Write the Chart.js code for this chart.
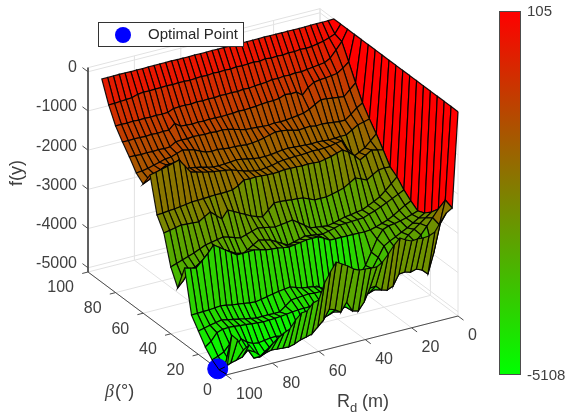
<!DOCTYPE html>
<html lang="en">
<head>
<meta charset="UTF-8">
<title>Surface</title>
<script src="https://cdn.jsdelivr.net/npm/chart.js"></script>
<style>
  html, body { margin: 0; padding: 0; background: #fff; }
  canvas { display: block; }
</style>
</head>
<body>
<canvas id="surface" width="567" height="416"></canvas>
<script>
// axis ticks
const rdTicks = [0, 20, 40, 60, 80, 100];
const betaTicks = [0, 20, 40, 60, 80, 100];
const fTicks = [0, -1000, -2000, -3000, -4000, -5000];
const fMin = -5108;
const fMax = 105;
const optimalPoint = [100, 6, -5108];

// Rd grid goes 0, 2.5, ... 100
const rdStep = 2.5;
// beta grid, one row every 5 degrees
const betaGrid = [0, 5, 10, 15, 20, 25, 30, 35, 40, 45, 50, 55, 60, 65, 70, 75, 80, 85, 90];

// f(y) per row
const beta0 = [105,-2315,-2404,-2598,-2815,-2878,-2891,-2881,-2894,-2830,-2741,-2884,-3075,-3241,-3330,-3320,-3307,-3297,-3233,-3118,-3029,-2940,-3159,-3401,-3797,-3835,-4001,-4016,-4156,-4348,-4412,-4503,-4618,-4733,-4848,-4710,-4493,-4582,-4292,-4126,-5083];
const beta5 = [105,-2243,-2843,-3519,-4016,-3878,-3815,-3858,-3815,-3832,-4098,-4164,-4123,-3986,-3998,-4317,-4508,-4470,-4205,-4422,-4332,-4271,-4514,-4654,-4794,-4835,-4873,-4937,-4975,-4965,-4952,-4940,-4980,-5044,-5031,-4789,-4929,-4970,-5009,-5072,-5108];
const beta10 = [105,-2603,-2790,-2970,-3154,-3300,-3480,-3650,-3800,-3950,-4050,-4150,-4250,-4300,-4350,-4400,-4450,-4500,-4520,-4550,-4600,-4650,-4700,-4720,-4760,-4790,-4820,-4840,-4830,-4800,-4804,-4830,-4850,-4830,-4760,-4640,-4800,-4700,-4860,-4930,-4988];
const beta15 = [105,-2812,-2920,-3030,-3140,-3250,-3400,-3550,-3750,-3950,-4100,-4200,-4300,-4350,-4400,-4400,-4400,-4420,-4420,-4430,-4430,-4430,-4440,-4440,-4445,-4460,-4480,-4500,-4510,-4520,-4526,-4510,-4500,-4480,-4470,-4450,-4440,-4450,-4500,-4680,-4788];
const beta20 = [105,-2968,-3060,-3150,-3238,-3310,-3390,-3460,-3550,-3800,-4050,-4200,-4350,-4400,-4400,-4400,-4400,-4400,-4350,-4300,-4300,-4281,-4295,-4310,-4322,-4440,-4552,-4555,-4550,-4555,-4557,-4530,-4500,-4470,-4440,-4410,-4381,-4410,-4440,-4480,-4511];
const beta25 = [105,-3047,-3100,-3150,-3190,-3220,-3240,-3300,-3500,-3800,-4100,-4300,-4450,-4500,-4500,-4500,-4500,-4450,-4350,-4300,-4280,-4261,-4210,-4159,-4180,-4200,-4225,-4260,-4290,-4317,-4300,-4280,-4260,-4243,-4210,-4192,-4205,-4220,-4225,-4230,-4235];
const beta30 = [105,-2924,-3000,-3090,-3180,-3259,-3310,-3360,-3400,-3414,-3410,-3405,-3404,-3400,-3400,-3399,-3310,-3241,-3240,-3243,-3270,-3290,-3310,-3290,-3260,-3250,-3233,-3190,-3159,-3165,-3170,-3174,-3070,-2970,-2870,-2769,-2950,-3100,-3241,-3210,-3168];
const beta35 = [105,-2774,-2850,-2920,-2990,-3060,-3120,-3170,-3227,-3230,-3240,-3250,-3255,-3300,-3340,-3373,-3350,-3330,-3310,-3350,-3390,-3427,-3350,-3270,-3186,-3150,-3111,-3200,-3290,-3381,-3300,-3220,-3139,-3200,-3270,-3333,-3360,-3390,-3424,-3650,-3807];
const beta40 = [105,-2575,-2710,-2850,-2973,-3050,-3120,-3190,-3210,-3240,-3256,-3300,-3340,-3373,-3350,-3330,-3312,-3200,-3100,-2996,-3020,-3040,-3061,-3030,-3000,-2973,-3020,-3070,-3116,-3070,-3020,-2978,-3010,-3040,-3067,-3130,-3197,-3250,-3300,-3350,-3404];
const beta45 = [105,-2450,-2440,-2455,-2540,-2634,-2570,-2506,-2600,-2687,-2730,-2770,-2803,-2800,-2805,-2740,-2678,-2660,-2650,-2630,-2620,-2618,-2760,-2899,-2850,-2799,-2720,-2647,-2570,-2496,-2688,-2560,-2433,-2520,-2613,-2600,-2590,-2578,-2610,-2640,-2668];
const beta50 = [105,-2149,-2110,-2075,-2170,-2254,-2100,-1980,-1886,-1930,-1980,-2010,-2042,-2030,-2020,-2030,-2019,-2020,-2010,-2030,-2040,-2030,-2022,-2010,-2020,-2011,-2120,-2192,-2200,-2210,-2205,-2215,-2225,-2230,-2234,-2260,-2280,-2300,-2310,-2330,-2340];
const beta55 = [105,-1872,-2010,-2154,-2230,-2310,-2060,-1825,-1850,-1880,-1894,-1900,-1890,-1910,-1919,-1920,-1930,-1935,-1960,-2000,-2020,-2039,-2020,-1990,-1950,-1900,-1850,-1820,-1800,-1780,-1751,-1720,-1680,-1639,-1450,-1256,-1300,-1340,-1380,-1420,-1451];
const beta60 = [105,-1621,-1660,-1700,-1790,-1878,-1880,-1890,-1894,-1880,-1870,-1880,-1871,-1860,-1850,-1840,-1848,-1870,-1890,-1900,-1901,-1880,-1850,-1820,-1802,-1820,-1830,-1840,-1830,-1800,-1760,-1730,-1700,-1718,-1650,-1580,-1478,-1560,-1650,-1740,-1812];
const beta65 = [105,-1344,-1435,-1560,-1667,-1670,-1650,-1630,-1618,-1630,-1600,-1610,-1621,-1590,-1550,-1530,-1521,-1560,-1600,-1630,-1651,-1660,-1640,-1630,-1628,-1610,-1590,-1600,-1580,-1520,-1450,-1410,-1378,-1430,-1480,-1496,-1540,-1580,-1620,-1650,-1664];
const beta70 = [105,-965,-1100,-1241,-1220,-1200,-1180,-1169,-1250,-1340,-1400,-1422,-1440,-1460,-1470,-1460,-1480,-1470,-1460,-1450,-1440,-1400,-1360,-1320,-1300,-1310,-1290,-1300,-1290,-1280,-1300,-1290,-1300,-1390,-1400,-1390,-1400,-1390,-1400,-1390,-1386];
const beta75 = [105,-561,-680,-780,-800,-820,-830,-855,-950,-1110,-990,-1000,-980,-1040,-1060,-1060,-1070,-1090,-1100,-1110,-1100,-1120,-1120,-1130,-1120,-1120,-1130,-1120,-1130,-1120,-1110,-1000,-1135,-1130,-1140,-1130,-1140,-1135,-1130,-1140,-1135];
const beta80 = [105,-174,-350,-520,-600,-620,-640,-660,-680,-670,-690,-680,-700,-690,-720,-730,-740,-760,-750,-770,-760,-770,-760,-780,-770,-780,-770,-790,-780,-780,-790,-850,-860,-850,-860,-850,-860,-850,-860,-855,-858];
const beta85 = [105,-110,-170,-220,-250,-280,-290,-280,-300,-290,-310,-300,-310,-290,-320,-300,-310,-320,-310,-330,-320,-330,-320,-340,-330,-340,-350,-340,-340,-350,-340,-350,-350,-360,-350,-370,-420,-430,-440,-450,-454];
const beta90 = [105,100,95,95,95,90,90,90,95,90,90,90,95,90,90,90,90,85,90,90,85,90,85,85,90,85,85,85,90,85,85,85,85,80,85,80,80,85,80,80,80];
const surfaceRows = [beta0, beta5, beta10, beta15, beta20, beta25, beta30, beta35, beta40, beta45, beta50, beta55, beta60, beta65, beta70, beta75, beta80, beta85, beta90];

// fixed matlab style camera, orthographic
function view(rd, beta, f) {
    return {
        x: 458 - 2.32 * rd - 1.38 * beta,
        y: 316 + 0.59 * rd - 1.03 * beta - 0.0392 * (f - fMin)
    };
}

// green at the bottom of the colormap, red at the top
function faceColor(f) {
    const t = Math.min(1, Math.max(0, (f - fMin) / (fMax - fMin)));
    return `rgb(${Math.round(255 * t)},${Math.round(255 * (1 - t))},0)`;
}

function lineSet(points, color, width) {
    return {
        data: points,
        showLine: true,
        fill: false,
        borderColor: color,
        borderWidth: width,
        pointRadius: 0,
        tension: 0
    };
}

// datasets in painting order, back to front. flipped before handing to Chart.js
const painted = [];

// grid on the back walls and the floor
const gridColor = '#e2e2e2';
rdTicks.forEach(rd => {
    painted.push(lineSet([view(rd, 0, fMin), view(rd, 100, fMin), view(rd, 100, fMax)], gridColor, 1));
});
betaTicks.forEach(beta => {
    painted.push(lineSet([view(100, beta, fMin), view(0, beta, fMin), view(0, beta, fMax)], gridColor, 1));
});
fTicks.forEach(f => {
    painted.push(lineSet([view(100, 100, f), view(0, 100, f), view(0, 0, f)], gridColor, 1));
});
painted.push(lineSet([view(100, 100, fMax), view(0, 100, fMax), view(0, 0, fMax)], gridColor, 1));

// axis lines and ticks
const axisColor = '#4d4d4d';
painted.push(lineSet([view(100, 100, fMax), view(100, 100, fMin), view(100, 0, fMin), view(0, 0, fMin)], axisColor, 1));
rdTicks.forEach(rd => {
    painted.push(lineSet([view(rd, 0, fMin), view(rd, -4, fMin)], axisColor, 1));
});
betaTicks.forEach(beta => {
    painted.push(lineSet([view(100, beta, fMin), view(102.5, beta, fMin)], axisColor, 1));
});
fTicks.forEach(f => {
    painted.push(lineSet([view(100, 100, f), view(100, 104, f)], axisColor, 1));
});

// surface faces, far corner first. colour comes from the lowest index vertex like surf()
for (let i = surfaceRows.length - 2; i >= 0; i--) {
    for (let k = 0; k < surfaceRows[i].length - 1; k++) {
        const rdA = k * rdStep;
        const rdB = (k + 1) * rdStep;
        const quad = [
            view(rdA, betaGrid[i], surfaceRows[i][k]),
            view(rdB, betaGrid[i], surfaceRows[i][k + 1]),
            view(rdB, betaGrid[i + 1], surfaceRows[i + 1][k + 1]),
            view(rdA, betaGrid[i + 1], surfaceRows[i + 1][k]),
            view(rdA, betaGrid[i], surfaceRows[i][k])
        ];
        painted.push({
            data: quad,
            showLine: true,
            fill: 'shape',
            backgroundColor: faceColor(surfaceRows[i][k]),
            borderColor: 'rgba(0,0,0,0.9)',
            borderWidth: 1.2,
            pointRadius: 0,
            tension: 0
        });
    }
}

// optimal point, a bit of the mesh stays visible over it
painted.push({
    data: [view(optimalPoint[0], optimalPoint[1], optimalPoint[2])],
    pointRadius: 10,
    pointBackgroundColor: '#0000ff',
    pointBorderColor: '#0000ff',
    showLine: false
});
const last = surfaceRows[0].length - 1;
painted.push(lineSet([
    view(100, 10, surfaceRows[2][last]),
    view(100, 5, surfaceRows[1][last]),
    view(100, 0, surfaceRows[0][last])
], '#000', 1));
painted.push(lineSet([
    view(97.5, 5, surfaceRows[1][last - 1]),
    view(100, 5, surfaceRows[1][last])
], '#000', 1));

// text, legend box and colorbar
const decorations = {
    id: 'decorations',
    afterDatasetsDraw(chart) {
        const ctx = chart.ctx;
        const sx = chart.scales.x;
        const sy = chart.scales.y;
        const px = p => ({ x: sx.getPixelForValue(p.x), y: sy.getPixelForValue(p.y) });
        const textColor = '#404040';

        ctx.save();
        ctx.fillStyle = textColor;
        ctx.font = '16px "Liberation Sans"';
        ctx.textBaseline = 'middle';

        ctx.textAlign = 'right';
        fTicks.forEach(f => {
            const p = px(view(100, 100, f));
            ctx.fillText(String(f), p.x - 11, p.y - 4);
        });
        betaTicks.forEach(beta => {
            const p = px(view(100, beta, fMin));
            ctx.fillText(String(beta), p.x - 14, p.y + 16);
        });
        ctx.textAlign = 'left';
        rdTicks.forEach(rd => {
            const p = px(view(rd, 0, fMin));
            ctx.fillText(String(rd), p.x + 10, p.y + 20);
        });

        // colorbar
        const barLeft = 499, barTop = 11, barWidth = 21, barHeight = 363;
        const grad = ctx.createLinearGradient(0, barTop, 0, barTop + barHeight);
        grad.addColorStop(0, faceColor(fMax));
        grad.addColorStop(1, faceColor(fMin));
        ctx.fillStyle = grad;
        ctx.fillRect(barLeft, barTop, barWidth, barHeight);
        ctx.strokeStyle = axisColor;
        ctx.lineWidth = 1;
        ctx.strokeRect(barLeft + 0.5, barTop + 0.5, barWidth, barHeight);
        ctx.fillStyle = textColor;
        ctx.font = '15px "Liberation Sans"';
        ctx.fillText(String(fMax), 527, 12);
        ctx.fillText(String(fMin), 527, 376);

        // legend
        ctx.fillStyle = '#fff';
        ctx.fillRect(98.5, 22.5, 145, 24);
        ctx.strokeStyle = '#333';
        ctx.strokeRect(98.5, 22.5, 145, 24);
        ctx.fillStyle = '#0000ff';
        ctx.beginPath();
        ctx.arc(123, 35, 8, 0, Math.PI * 2);
        ctx.fill();
        ctx.fillStyle = '#262626';
        ctx.font = '15px "Liberation Sans"';
        ctx.fillText('Optimal Point', 148, 35);

        // axis titles
        ctx.fillStyle = textColor;
        ctx.font = '18px "Liberation Sans"';
        ctx.fillText('R', 337, 402);
        ctx.font = '13px "Liberation Sans"';
        ctx.fillText('d', 350, 408);
        ctx.font = '18px "Liberation Sans"';
        ctx.fillText('(m)', 362, 402);
        ctx.font = 'italic 18px "Liberation Serif"';
        ctx.fillText('β', 105, 392);
        ctx.font = '18px "Liberation Sans"';
        ctx.fillText('(°)', 115, 392);
        ctx.save();
        ctx.translate(17, 173);
        ctx.rotate(-Math.PI / 2);
        ctx.textAlign = 'center';
        ctx.fillText('f(y)', 0, 0);
        ctx.restore();
        ctx.restore();
    }
};

new Chart(document.getElementById('surface').getContext('2d'), {
    type: 'scatter',
    data: { datasets: painted.slice().reverse() },
    options: {
        responsive: false,
        animation: false,
        events: [],
        devicePixelRatio: 1,
        layout: { padding: 0, autoPadding: false },
        plugins: { legend: { display: false }, tooltip: { enabled: false } },
        scales: {
            x: { type: 'linear', min: 0, max: 567, display: false },
            y: { type: 'linear', min: 0, max: 416, reverse: true, display: false }
        }
    },
    plugins: [decorations]
});
</script>
</body>
</html>
